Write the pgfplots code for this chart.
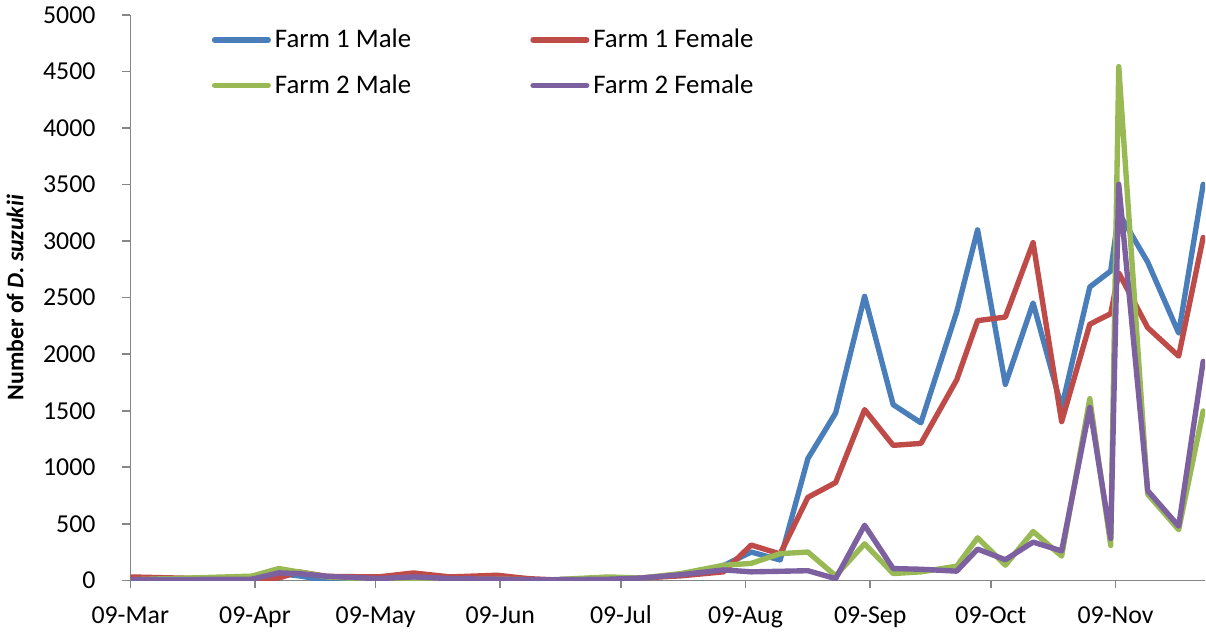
\documentclass[border=0pt]{standalone}
\usepackage{pgfplots}
\pgfplotsset{compat=1.18}
\usepackage{fontspec}
\setmainfont{Carlito}

\definecolor{xlblue}{HTML}{4A7EBB}
\definecolor{xlred}{HTML}{BE4B48}
\definecolor{xlgreen}{HTML}{98B954}
\definecolor{xlpurple}{HTML}{7D60A0}
\definecolor{axgray}{HTML}{868686}

% days since 09-Mar; columns: Farm 1 male, Farm 1 female, Farm 2 male, Farm 2 female
\pgfplotstableread{
day   fm   ff   sm   sf
0     5    30   5    5
30.2  5    5    37   10
36.9  60   20   104  66
41.8  40   75   75   60
49    0    35   30   35
61.6  0    30   5    15
70.4  5    65   5    30
79.6  5    30   5    15
91.2  10   45   10   10
98.9  5    15   5    5
105   5    5    5    5
119   10   10   30   10
127   20   20   20   20
137   50   40   60   50
147.5 130  75   133  92
154.4 250  312  150  75
161.6 180  233  236  80
168.5 1077 734  250  85
175.4 1480 865  40   15
182.6 2512 1510 323  487
189.7 1554 1194 60   104
196.6 1393 1211 75   98
205.5 2374 1773 125  81
210.7 3100 2297 376  276
217.6 1733 2329 134  182
224.5 2453 2987 432  338
231.6 1529 1404 214  260
238.6 2595 2265 1607 1529
243.8 2736 2359 308  370
245.8 3250 2720 4544 3503
253   2815 2235 762  793
260.7 2187 1983 448  479
266.8 3503 3033 1498 1937
}\suzukii

\begin{document}
\begin{tikzpicture}
\begin{axis}[
  scale only axis,
  width=541pt, height=284.5pt,
  xmin=0, xmax=267.3,
  ymin=0, ymax=5000,
  axis lines*=left,
  axis line style={axgray, line width=0.8pt},
  tick style={axgray, line width=0.8pt},
  tick align=outside,
  major tick length=4pt,
  xtick={0,31,61,92,122,153,184,214,245},
  xticklabels={09-Mar,09-Apr,09-May,09-Jun,09-Jul,09-Aug,09-Sep,09-Oct,09-Nov},
  ytick={0,500,...,5000},
  /pgf/number format/assume math mode=true,
  /pgf/number format/1000 sep={},
  ticklabel style={font=\fontsize{13}{15}\selectfont},
  xticklabel style={yshift=-5pt, text height=9pt, text depth=2pt},
  yticklabel style={xshift=-10pt},
  ylabel={\textbf{Number of \textit{D. suzukii}}},
  ylabel style={font=\fontsize{12}{14}\selectfont, yshift=3pt},
  legend columns=2,
  legend cell align=left,
  legend style={draw=none, fill=none, at={(rel axis cs:0.07,0.99)}, anchor=north west,
    font=\fontsize{13.5}{16}\selectfont, row sep=8pt},
  legend image code/.code={\draw[#1] (0pt,0pt) -- (27pt,0pt);},
  /tikz/every even column/.append style={column sep=58pt},
  every axis plot/.append style={line width=2.7pt, line join=round, line cap=round},
]
\addplot[xlblue] table[x=day, y=fm] {\suzukii};
\addplot[xlred] table[x=day, y=ff] {\suzukii};
\addplot[xlgreen] table[x=day, y=sm] {\suzukii};
\addplot[xlpurple] table[x=day, y=sf] {\suzukii};
\legend{Farm 1 Male, Farm 1 Female, Farm 2 Male, Farm 2 Female}
\end{axis}
\end{tikzpicture}
\end{document}
